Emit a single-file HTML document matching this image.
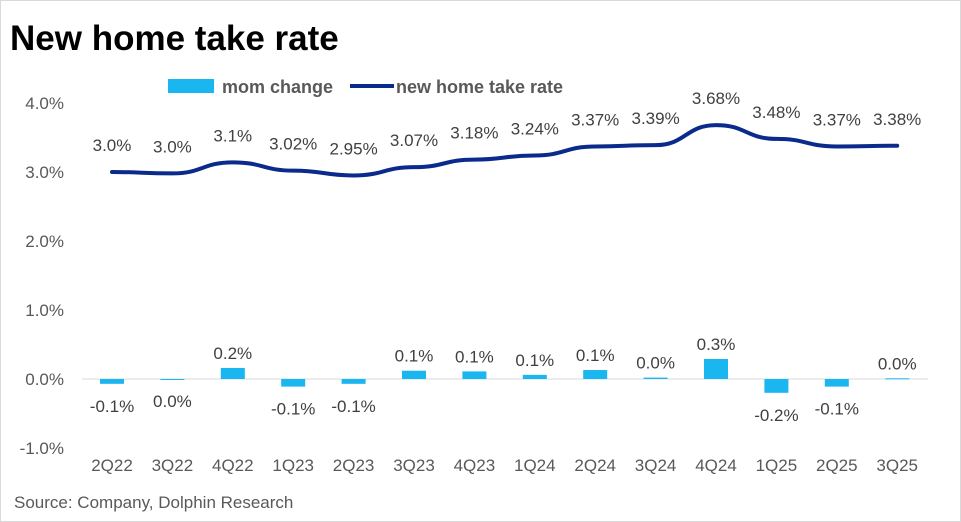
<!DOCTYPE html>
<html><head><meta charset="utf-8">
<style>
body{margin:0;background:#fff;font-family:"Liberation Sans",sans-serif;}
#wrap{position:relative;width:961px;height:522px;overflow:hidden;background:#fff;}
</style></head>
<body>
<div id="wrap">
<svg id="chart" width="961" height="522">
<rect x="0.5" y="0.5" width="960" height="521" fill="#fff" stroke="#d9d9d9"/>
<text x="10" y="50" font-size="35" font-weight="bold" fill="#000">New home take rate</text>
<rect x="168" y="79" width="46" height="14" fill="#1ab6f0"/>
<text x="222" y="93" font-size="18" font-weight="bold" fill="#595959">mom change</text>
<line x1="350" y1="86" x2="394" y2="86" stroke="#0a2a8c" stroke-width="4"/>
<text x="396" y="93" font-size="18" font-weight="bold" fill="#595959">new home take rate</text>
<text x="14" y="508" font-size="17" fill="#595959">Source: Company, Dolphin Research</text>
<g id="axes"></g><g id="bars"></g><g id="line"></g><g id="labels"></g>
</svg>
</div>
<script>
const categories=["2Q22","3Q22","4Q22","1Q23","2Q23","3Q23","4Q23","1Q24","2Q24","3Q24","4Q24","1Q25","2Q25","3Q25"];
const takeRate=[3.0,2.98,3.14,3.02,2.95,3.07,3.18,3.24,3.37,3.39,3.68,3.48,3.37,3.38];
const takeRateLabels=["3.0%","3.0%","3.1%","3.02%","2.95%","3.07%","3.18%","3.24%","3.37%","3.39%","3.68%","3.48%","3.37%","3.38%"];
const momChange=[-0.07,0.0,0.16,-0.11,-0.07,0.12,0.11,0.06,0.13,0.02,0.29,-0.2,-0.11,0.01];
const momLabels=["-0.1%","0.0%","0.2%","-0.1%","-0.1%","0.1%","0.1%","0.1%","0.1%","0.0%","0.3%","-0.2%","-0.1%","0.0%"];
const yTicks=[-1,0,1,2,3,4];
const yTickLabels=["-1.0%","0.0%","1.0%","2.0%","3.0%","4.0%"];
const NS="http://www.w3.org/2000/svg";
const x=i=>112+i*60.4;
const y=v=>379-v*69;
function mk(tag,attrs,parent,txt){const e=document.createElementNS(NS,tag);for(const k in attrs)e.setAttribute(k,attrs[k]);if(txt!==undefined)e.textContent=txt;document.getElementById(parent).appendChild(e);return e;}
yTicks.forEach((t,i)=>{
  const e=mk("text",{x:64,y:y(t)+6,"font-size":17,fill:"#595959","text-anchor":"end"},"axes",yTickLabels[i]);
  
  
});
const ax=mk("line",{x1:82,x2:928,y1:y(0),y2:y(0),stroke:"#d9d9d9","stroke-width":1},"axes");


categories.forEach((c,i)=>{
  const e=mk("text",{x:x(i),y:471,"font-size":17,fill:"#595959","text-anchor":"middle"},"axes",c);
  
  
  const v=momChange[i];
  const b=mk("rect",{x:x(i)-12,y:Math.min(y(v),y(0)),width:24,height:Math.max(Math.abs(y(v)-y(0)),1),fill:"#1ab6f0"},"bars");
  
  
  const ly=v>=0.005?y(v)-9:(v<-0.005?y(v)+28:y(0)+28);
  const bl=mk("text",{x:x(i),y:(i==1?y(0)+28:ly),"font-size":17,fill:"#404040","text-anchor":"middle"},"labels",momLabels[i]);
  
  
  const ll=mk("text",{x:x(i),y:y(takeRate[i])-21,"font-size":17,fill:"#404040","text-anchor":"middle"},"labels",takeRateLabels[i]);
  
  
});
let d="M"+x(0)+","+y(takeRate[0]);
for(let i=1;i<takeRate.length;i++){
  const x0=x(i-1),x1=x(i),y0=y(takeRate[i-1]),y1=y(takeRate[i]);
  const cx=(x1-x0)/2;
  d+=" C"+(x0+cx)+","+y0+" "+(x1-cx)+","+y1+" "+x1+","+y1;
}
const p=mk("path",{d:d,fill:"none",stroke:"#0a2a8c","stroke-width":4,"stroke-linecap":"round"},"line");


</script>
</body></html>
